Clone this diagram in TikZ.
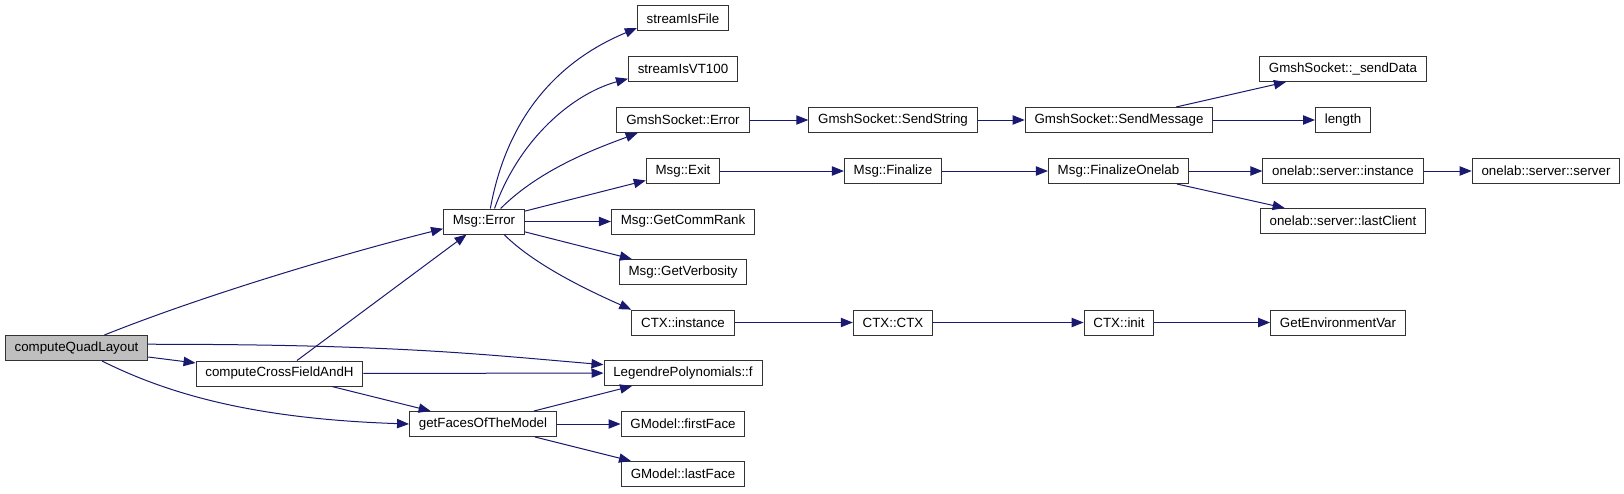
\documentclass[tikz,border=0pt]{standalone}
\usepackage{fontspec}
\setmainfont{Liberation Sans}
\usetikzlibrary{arrows.meta}
\definecolor{callblue}{HTML}{191970}
\definecolor{rootgray}{HTML}{BFBFBF}
\tikzset{fn/.style={draw=black!80,fill=white,line width=.75pt,inner xsep=7pt,inner ysep=0pt,minimum height=18.75pt,anchor=center,font=\fontsize{10}{12}\selectfont},rootfn/.style={fn,fill=rootgray},call/.style={draw=callblue,line width=.75pt,-{Triangle[length=9pt,width=7pt,fill=callblue]}}}

\begin{document}
\begin{tikzpicture}[x=.75pt,y=-.75pt]
\path[use as bounding box] (0,0) rectangle (1624,493);
\node[rootfn] (cql) at (76.5,348) {computeQuadLayout};
\node[fn] (ccf) at (279.5,373.5) {computeCrossFieldAndH};
\node[fn] (err) at (484,221.5) {Msg::Error};
\node[fn] (gfm) at (483,424) {getFacesOfTheModel};
\node[fn] (sfile) at (683,18.3) {streamIsFile};
\node[fn] (svt) at (683,69) {streamIsVT100};
\node[fn] (gserr) at (683,120) {GmshSocket::Error};
\node[fn] (exit) at (683,171) {Msg::Exit};
\node[fn] (rank) at (683,221.5) {Msg::GetCommRank};
\node[fn] (verb) at (683,272) {Msg::GetVerbosity};
\node[fn] (ctxi) at (683,322.5) {CTX::instance};
\node[fn] (leg) at (683,373) {LegendrePolynomials::f};
\node[fn] (first) at (683,424) {GModel::firstFace};
\node[fn] (last) at (683,474) {GModel::lastFace};
\node[fn] (sstr) at (893,120) {GmshSocket::SendString};
\node[fn] (fin) at (893,171) {Msg::Finalize};
\node[fn] (ctx) at (893,322.5) {CTX::CTX};
\node[fn] (smsg) at (1119,120) {GmshSocket::SendMessage};
\node[fn] (fonl) at (1118.5,171) {Msg::FinalizeOnelab};
\node[fn] (init) at (1119,322.5) {CTX::init};
\node[fn] (sdata) at (1343,69) {GmshSocket::\_sendData};
\node[fn] (len) at (1343,120) {length};
\node[fn] (osi) at (1343,171) {onelab::server::instance};
\node[fn] (olc) at (1343,221) {onelab::server::lastClient};
\node[fn] (genv) at (1338,322.5) {GetEnvironmentVar};
\node[fn] (oss) at (1546,171) {onelab::server::server};
\draw[call] (cql.25) .. controls +(100,-40) and +(-100,25) .. (err.190);
\draw[call] (cql.3) .. controls +(250,0) and +(-120,-10) .. (leg.174);
\draw[call] (cql) -- (ccf);
\draw[call] (cql.-27) .. controls +(70,35) and +(-150,-5) .. (gfm.west);
\draw[call] (ccf) -- (err);
\draw[call] (ccf) -- (leg);
\draw[call] (ccf) -- (gfm);
\draw[call] (err.64) .. controls +(20,-110) and +(-60,25) .. (sfile.192);
\draw[call] (err.51) .. controls +(25,-70) and +(-55,15) .. (svt.190);
\draw[call] (err.38) .. controls +(40,-40) and +(-40,15) .. (gserr.196);
\draw[call] (err) -- (exit);
\draw[call] (err) -- (rank);
\draw[call] (err) -- (verb);
\draw[call] (err.-33) .. controls +(30,30) and +(-45,-20) .. (ctxi.166);
\draw[call] (gserr) -- (sstr);
\draw[call] (sstr) -- (smsg);
\draw[call] (smsg) -- (sdata);
\draw[call] (smsg) -- (len);
\draw[call] (exit) -- (fin);
\draw[call] (fin) -- (fonl);
\draw[call] (fonl) -- (osi);
\draw[call] (fonl) -- (olc);
\draw[call] (osi) -- (oss);
\draw[call] (ctxi) -- (ctx);
\draw[call] (ctx) -- (init);
\draw[call] (init) -- (genv);
\draw[call] (gfm) -- (leg);
\draw[call] (gfm) -- (first);
\draw[call] (gfm) -- (last);
\end{tikzpicture}
\end{document}
